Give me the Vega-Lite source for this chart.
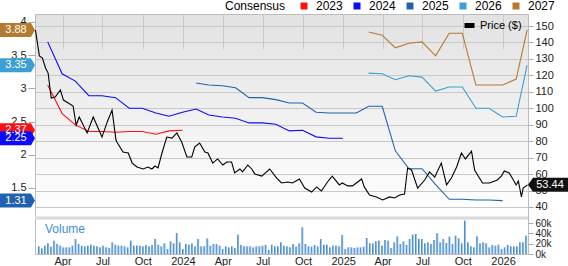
{
  "$schema": "https://vega.github.io/schema/vega-lite/v6.json",
  "background": "white",
  "padding": {"left": 0, "top": 0, "right": 0, "bottom": 0},
  "width": 493,
  "height": 240,
  "view": {
    "fill": {"gradient": "linear", "x1": 0, "y1": 0, "x2": 0, "y2": 1, "stops": [{"offset": 0, "color": "#e2e2e2"}, {"offset": 0.84, "color": "#ffffff"}, {"offset": 1, "color": "#ffffff"}]},
    "stroke": "#bcbcbc"
  },
  "datasets": {
    "cons": [
      {"d":"2023-02-26","yr":"2023","v":3.05},{"d":"2023-03-31","yr":"2023","v":2.62},{"d":"2023-04-30","yr":"2023","v":2.45},{"d":"2023-05-31","yr":"2023","v":2.35},{"d":"2023-06-30","yr":"2023","v":2.35},{"d":"2023-07-31","yr":"2023","v":2.34},{"d":"2023-08-31","yr":"2023","v":2.35},{"d":"2023-09-30","yr":"2023","v":2.35},{"d":"2023-10-31","yr":"2023","v":2.31},{"d":"2023-11-30","yr":"2023","v":2.36},{"d":"2023-12-31","yr":"2023","v":2.37},
      {"d":"2023-02-26","yr":"2024","v":3.70},{"d":"2023-03-31","yr":"2024","v":3.22},{"d":"2023-04-30","yr":"2024","v":3.11},{"d":"2023-05-31","yr":"2024","v":2.89},{"d":"2023-06-30","yr":"2024","v":2.89},{"d":"2023-07-31","yr":"2024","v":2.86},{"d":"2023-08-31","yr":"2024","v":2.70},{"d":"2023-09-30","yr":"2024","v":2.70},{"d":"2023-10-31","yr":"2024","v":2.63},{"d":"2023-11-30","yr":"2024","v":2.58},{"d":"2023-12-31","yr":"2024","v":2.64},{"d":"2024-01-31","yr":"2024","v":2.69},{"d":"2024-02-29","yr":"2024","v":2.60},{"d":"2024-03-31","yr":"2024","v":2.57},{"d":"2024-04-30","yr":"2024","v":2.55},{"d":"2024-05-31","yr":"2024","v":2.48},{"d":"2024-06-30","yr":"2024","v":2.48},{"d":"2024-07-31","yr":"2024","v":2.46},{"d":"2024-08-31","yr":"2024","v":2.36},{"d":"2024-09-30","yr":"2024","v":2.37},{"d":"2024-10-31","yr":"2024","v":2.27},{"d":"2024-11-30","yr":"2024","v":2.25},{"d":"2024-12-31","yr":"2024","v":2.25},
      {"d":"2024-01-31","yr":"2025","v":3.08},{"d":"2024-02-29","yr":"2025","v":3.05},{"d":"2024-03-31","yr":"2025","v":3.04},{"d":"2024-04-30","yr":"2025","v":3.01},{"d":"2024-05-31","yr":"2025","v":2.86},{"d":"2024-06-30","yr":"2025","v":2.86},{"d":"2024-07-31","yr":"2025","v":2.83},{"d":"2024-08-31","yr":"2025","v":2.78},{"d":"2024-09-30","yr":"2025","v":2.78},{"d":"2024-10-31","yr":"2025","v":2.64},{"d":"2024-11-30","yr":"2025","v":2.63},{"d":"2024-12-31","yr":"2025","v":2.63},{"d":"2025-01-31","yr":"2025","v":2.63},{"d":"2025-02-28","yr":"2025","v":2.73},{"d":"2025-03-31","yr":"2025","v":2.73},{"d":"2025-04-30","yr":"2025","v":2.06},{"d":"2025-05-31","yr":"2025","v":1.79},{"d":"2025-06-30","yr":"2025","v":1.79},{"d":"2025-07-31","yr":"2025","v":1.55},{"d":"2025-08-31","yr":"2025","v":1.33},{"d":"2025-09-30","yr":"2025","v":1.33},{"d":"2025-10-31","yr":"2025","v":1.32},{"d":"2025-11-30","yr":"2025","v":1.32},{"d":"2025-12-31","yr":"2025","v":1.31},
      {"d":"2025-02-28","yr":"2026","v":3.23},{"d":"2025-03-31","yr":"2026","v":3.22},{"d":"2025-04-30","yr":"2026","v":3.13},{"d":"2025-05-31","yr":"2026","v":3.19},{"d":"2025-06-30","yr":"2026","v":3.17},{"d":"2025-07-31","yr":"2026","v":2.96},{"d":"2025-08-31","yr":"2026","v":3.02},{"d":"2025-09-30","yr":"2026","v":3.02},{"d":"2025-10-31","yr":"2026","v":2.70},{"d":"2025-11-30","yr":"2026","v":2.70},{"d":"2025-12-31","yr":"2026","v":2.57},{"d":"2026-01-31","yr":"2026","v":2.58},{"d":"2026-02-25","yr":"2026","v":3.35},
      {"d":"2025-02-28","yr":"2027","v":3.85},{"d":"2025-03-31","yr":"2027","v":3.80},{"d":"2025-04-30","yr":"2027","v":3.61},{"d":"2025-05-31","yr":"2027","v":3.68},{"d":"2025-06-30","yr":"2027","v":3.70},{"d":"2025-07-31","yr":"2027","v":3.49},{"d":"2025-08-31","yr":"2027","v":3.83},{"d":"2025-09-30","yr":"2027","v":3.83},{"d":"2025-10-31","yr":"2027","v":3.05},{"d":"2025-11-30","yr":"2027","v":3.05},{"d":"2025-12-31","yr":"2027","v":3.05},{"d":"2026-01-31","yr":"2027","v":3.14},{"d":"2026-02-25","yr":"2027","v":3.88}
    ],
    "tags": [
      {"yr":"2023","v":2.37},{"yr":"2024","v":2.25},{"yr":"2025","v":1.31},{"yr":"2026","v":3.35},{"yr":"2027","v":3.88}
    ],
    "price": [
      {"d":"2023-01-29","p":147.6},{"d":"2023-02-07","p":131.8},{"d":"2023-02-14","p":130.5},{"d":"2023-02-21","p":124.5},{"d":"2023-02-27","p":121.4},{"d":"2023-03-06","p":106.2},{"d":"2023-03-15","p":106.8},{"d":"2023-03-27","p":111.1},{"d":"2023-04-03","p":105.0},{"d":"2023-04-14","p":103.2},{"d":"2023-04-25","p":101.4},{"d":"2023-05-02","p":89.8},{"d":"2023-05-09","p":94.7},{"d":"2023-05-27","p":85.0},{"d":"2023-06-10","p":94.7},{"d":"2023-06-30","p":82.5},{"d":"2023-07-12","p":91.7},{"d":"2023-07-23","p":98.9},{"d":"2023-08-01","p":80.7},{"d":"2023-08-03","p":79.5},{"d":"2023-08-17","p":73.4},{"d":"2023-08-29","p":72.8},{"d":"2023-09-07","p":66.7},{"d":"2023-09-18","p":64.3},{"d":"2023-10-02","p":63.1},{"d":"2023-10-13","p":64.3},{"d":"2023-10-22","p":63.1},{"d":"2023-10-29","p":64.9},{"d":"2023-11-05","p":63.7},{"d":"2023-11-14","p":72.8},{"d":"2023-11-25","p":82.5},{"d":"2023-12-07","p":81.9},{"d":"2023-12-18","p":85.0},{"d":"2023-12-29","p":79.5},
      {"d":"2024-01-10","p":70.4},{"d":"2024-01-21","p":70.4},{"d":"2024-01-28","p":76.5},{"d":"2024-02-08","p":78.9},{"d":"2024-02-20","p":73.4},{"d":"2024-02-27","p":72.8},{"d":"2024-03-09","p":66.7},{"d":"2024-03-20","p":69.2},{"d":"2024-04-01","p":65.5},{"d":"2024-04-10","p":67.3},{"d":"2024-04-21","p":67.3},{"d":"2024-04-28","p":60.7},{"d":"2024-05-10","p":63.1},{"d":"2024-05-16","p":61.3},{"d":"2024-05-28","p":65.5},{"d":"2024-06-06","p":63.1},{"d":"2024-06-13","p":60.1},{"d":"2024-06-29","p":58.8},{"d":"2024-07-17","p":63.1},{"d":"2024-08-02","p":57.6},{"d":"2024-08-13","p":54.6},{"d":"2024-08-27","p":55.2},{"d":"2024-09-07","p":54.6},{"d":"2024-09-23","p":57.0},{"d":"2024-10-05","p":51.5},{"d":"2024-10-21","p":49.1},{"d":"2024-11-01","p":52.2},{"d":"2024-11-12","p":49.7},{"d":"2024-11-26","p":55.2},{"d":"2024-12-07","p":58.8},{"d":"2024-12-23","p":53.4},{"d":"2024-12-30","p":54.6},
      {"d":"2025-01-11","p":52.8},{"d":"2025-01-22","p":52.8},{"d":"2025-01-31","p":54.6},{"d":"2025-02-12","p":57.0},{"d":"2025-02-18","p":52.2},{"d":"2025-03-02","p":47.3},{"d":"2025-03-18","p":46.1},{"d":"2025-04-01","p":44.3},{"d":"2025-04-17","p":46.1},{"d":"2025-04-28","p":45.5},{"d":"2025-05-10","p":47.3},{"d":"2025-05-21","p":47.9},{"d":"2025-05-28","p":63.7},{"d":"2025-06-06","p":62.5},{"d":"2025-06-20","p":51.5},{"d":"2025-07-06","p":56.4},{"d":"2025-07-17","p":61.3},{"d":"2025-07-29","p":58.2},{"d":"2025-08-13","p":66.7},{"d":"2025-08-25","p":53.4},{"d":"2025-09-05","p":57.6},{"d":"2025-09-17","p":64.3},{"d":"2025-09-28","p":72.8},{"d":"2025-10-07","p":69.2},{"d":"2025-10-21","p":74.0},{"d":"2025-10-28","p":62.5},{"d":"2025-11-15","p":54.6},{"d":"2025-12-01","p":54.6},{"d":"2025-12-19","p":56.4},{"d":"2025-12-28","p":58.8},
      {"d":"2026-01-04","p":61.9},{"d":"2026-01-15","p":60.7},{"d":"2026-01-22","p":57.6},{"d":"2026-01-31","p":53.4},{"d":"2026-02-05","p":55.8},{"d":"2026-02-12","p":46.1},{"d":"2026-02-16","p":51.5},{"d":"2026-02-26","p":53.44}
    ],
    "ptag": [{"p":53.44}],
    "vlabel": [{"t":"Volume"}],
    "vol": [
      {"w":"2023-02-06","v":14900},{"w":"2023-02-13","v":11000},{"w":"2023-02-20","v":16200},{"w":"2023-02-27","v":20700},{"w":"2023-03-06","v":14200},{"w":"2023-03-13","v":25900},{"w":"2023-03-20","v":19400},{"w":"2023-03-27","v":16200},{"w":"2023-04-03","v":12900},{"w":"2023-04-10","v":12900},{"w":"2023-04-17","v":12900},{"w":"2023-04-24","v":16200},{"w":"2023-05-01","v":29100},{"w":"2023-05-08","v":19400},{"w":"2023-05-15","v":16200},{"w":"2023-05-22","v":14900},{"w":"2023-05-29","v":16200},{"w":"2023-06-05","v":18100},{"w":"2023-06-12","v":16200},{"w":"2023-06-19","v":14900},{"w":"2023-06-26","v":12900},{"w":"2023-07-03","v":16200},{"w":"2023-07-10","v":12900},{"w":"2023-07-17","v":11600},{"w":"2023-07-24","v":22600},{"w":"2023-07-31","v":18100},{"w":"2023-08-07","v":16200},{"w":"2023-08-14","v":16200},{"w":"2023-08-21","v":14900},{"w":"2023-08-28","v":12900},{"w":"2023-09-04","v":25900},{"w":"2023-09-11","v":16200},{"w":"2023-09-18","v":16200},{"w":"2023-09-25","v":16200},{"w":"2023-10-02","v":14900},{"w":"2023-10-09","v":17500},{"w":"2023-10-16","v":14900},{"w":"2023-10-23","v":17500},{"w":"2023-10-30","v":29100},{"w":"2023-11-06","v":18100},{"w":"2023-11-13","v":14900},
      {"w":"2023-11-20","v":20700},{"w":"2023-11-27","v":9700},{"w":"2023-12-04","v":24600},{"w":"2023-12-11","v":20700},{"w":"2023-12-18","v":40800},{"w":"2023-12-25","v":22600},{"w":"2024-01-01","v":9700},{"w":"2024-01-08","v":19400},{"w":"2024-01-15","v":18100},{"w":"2024-01-22","v":20700},{"w":"2024-01-29","v":14900},{"w":"2024-02-05","v":29100},{"w":"2024-02-12","v":14900},{"w":"2024-02-19","v":14900},{"w":"2024-02-26","v":30400},{"w":"2024-03-04","v":16200},{"w":"2024-03-11","v":19400},{"w":"2024-03-18","v":19400},{"w":"2024-03-25","v":16200},{"w":"2024-04-01","v":9700},{"w":"2024-04-08","v":14900},{"w":"2024-04-15","v":12900},{"w":"2024-04-22","v":14900},{"w":"2024-04-29","v":11600},{"w":"2024-05-06","v":37500},{"w":"2024-05-13","v":17500},{"w":"2024-05-20","v":14900},{"w":"2024-05-27","v":14900},{"w":"2024-06-03","v":14900},{"w":"2024-06-10","v":12900},{"w":"2024-06-17","v":14900},{"w":"2024-06-24","v":14900},{"w":"2024-07-01","v":16200},{"w":"2024-07-08","v":17500},{"w":"2024-07-15","v":7800},{"w":"2024-07-22","v":18100},{"w":"2024-07-29","v":14900},{"w":"2024-08-05","v":14900},{"w":"2024-08-12","v":22600},{"w":"2024-08-19","v":16200},
      {"w":"2024-08-26","v":14900},{"w":"2024-09-02","v":12900},{"w":"2024-09-09","v":19400},{"w":"2024-09-16","v":14200},{"w":"2024-09-23","v":20700},{"w":"2024-09-30","v":51800},{"w":"2024-10-07","v":19400},{"w":"2024-10-14","v":14900},{"w":"2024-10-21","v":14200},{"w":"2024-10-28","v":17500},{"w":"2024-11-04","v":14900},{"w":"2024-11-11","v":29100},{"w":"2024-11-18","v":18100},{"w":"2024-11-25","v":18100},{"w":"2024-12-02","v":12900},{"w":"2024-12-09","v":16200},{"w":"2024-12-16","v":16200},{"w":"2024-12-23","v":14900},{"w":"2024-12-30","v":36900},{"w":"2025-01-06","v":9700},{"w":"2025-01-13","v":12900},{"w":"2025-01-20","v":12900},{"w":"2025-01-27","v":11600},{"w":"2025-02-03","v":12900},{"w":"2025-02-10","v":12900},{"w":"2025-02-17","v":14200},{"w":"2025-02-24","v":31100},{"w":"2025-03-03","v":20700},{"w":"2025-03-10","v":20700},{"w":"2025-03-17","v":24600},{"w":"2025-03-24","v":25900},{"w":"2025-03-31","v":16200},{"w":"2025-04-07","v":27200},{"w":"2025-04-14","v":25900},{"w":"2025-04-21","v":11600},{"w":"2025-04-28","v":22600},{"w":"2025-05-05","v":34300},{"w":"2025-05-12","v":19400},{"w":"2025-05-19","v":24600},{"w":"2025-05-26","v":17500},
      {"w":"2025-06-02","v":29100},{"w":"2025-06-09","v":37500},{"w":"2025-06-16","v":38800},{"w":"2025-06-23","v":29100},{"w":"2025-06-30","v":29100},{"w":"2025-07-07","v":20700},{"w":"2025-07-14","v":22600},{"w":"2025-07-21","v":19400},{"w":"2025-07-28","v":27200},{"w":"2025-08-04","v":40100},{"w":"2025-08-11","v":22600},{"w":"2025-08-18","v":29100},{"w":"2025-08-25","v":21400},{"w":"2025-09-01","v":33600},{"w":"2025-09-08","v":19400},{"w":"2025-09-15","v":35600},{"w":"2025-09-22","v":30400},{"w":"2025-09-29","v":20700},{"w":"2025-10-06","v":64700},{"w":"2025-10-13","v":22600},{"w":"2025-10-20","v":14900},{"w":"2025-10-27","v":12900},{"w":"2025-11-03","v":34300},{"w":"2025-11-10","v":20700},{"w":"2025-11-17","v":22600},{"w":"2025-11-24","v":20700},{"w":"2025-12-01","v":12900},{"w":"2025-12-08","v":17500},{"w":"2025-12-15","v":16200},{"w":"2025-12-22","v":18100},{"w":"2025-12-29","v":9700},{"w":"2026-01-05","v":12900},{"w":"2026-01-12","v":17500},{"w":"2026-01-19","v":14900},{"w":"2026-01-26","v":14900},{"w":"2026-02-02","v":14900},{"w":"2026-02-09","v":22600},{"w":"2026-02-16","v":22600},{"w":"2026-02-23","v":35600}
    ]
  },
  "layer": [
    {
      "layer": [
        {
          "data": {"name": "vol"},
          "mark": {"type": "bar", "width": 2, "fill": {"gradient": "linear", "x1": 0, "y1": 0, "x2": 1, "y2": 0, "stops": [{"offset": 0, "color": "#2f74bf"}, {"offset": 1, "color": "#a8d0f2"}]}},
          "encoding": {
            "x": {"field": "w", "type": "temporal", "scale": {"type": "utc", "padding": 0, "domain": [{"year": 2023, "month": 1, "date": 28, "utc": true}, {"year": 2026, "month": 2, "date": 27, "utc": true}]}, "axis": {"title": null}},
            "y": {"field": "v", "type": "quantitative", "scale": {"domain": [0, 67800], "range": [240, 205], "nice": false}, "axis": {"orient": "right", "values": [0, 20000, 40000, 60000], "format": "~s", "grid": false, "tickSize": 5, "labelPadding": 2, "labelFontSize": 10, "labelOverlap": false, "labelFlush": false, "title": null}}
          }
        },
        {
          "data": {"name": "vlabel"},
          "mark": {"type": "text", "align": "left", "baseline": "middle", "dx": 10, "fontSize": 12, "color": "#3d8fd6"},
          "encoding": {
            "x": {"datum": {"year": 2023, "month": 1, "date": 28, "utc": true}, "type": "temporal", "axis": {"title": null}},
            "y": {"datum": 48000, "type": "quantitative", "axis": {"orient": "right", "values": [0, 20000, 40000, 60000], "format": "~s", "grid": false, "tickSize": 5, "labelPadding": 2, "labelFontSize": 10, "labelOverlap": false, "labelFlush": false, "title": null}},
            "text": {"field": "t", "type": "nominal"}
          }
        },
        {
          "data": {"name": "vlabel"},
          "mark": {"type": "rule", "color": "#dadada", "strokeWidth": 3},
          "encoding": {
            "y": {"datum": 69600, "type": "quantitative", "axis": {"orient": "right", "values": [0, 20000, 40000, 60000], "format": "~s", "grid": false, "tickSize": 5, "labelPadding": 2, "labelFontSize": 10, "labelOverlap": false, "labelFlush": false, "title": null}}
          }
        }
      ]
    },
    {
      "layer": [
        {
          "data": {"name": "cons"},
          "mark": {"type": "line", "strokeWidth": 1.1},
          "encoding": {
            "x": {"field": "d", "type": "temporal", "axis": {"title": null}},
            "y": {"field": "v", "type": "quantitative", "scale": {"domain": [1.048, 4.12], "range": [204, 0], "nice": false, "zero": false}, "axis": {"orient": "left", "values": [1.5, 2, 2.5, 3, 3.5, 4], "format": "~g", "grid": false, "tickSize": 7, "ticks": true, "labelPadding": 2, "title": null}},
            "color": {
              "field": "yr", "type": "nominal",
              "scale": {"domain": ["2023", "2024", "2025", "2026", "2027"], "range": ["#ff1010", "#0a0aff", "#2062b0", "#3a9fd2", "#b47a2e"]},
              "legend": {
                "orient": "none", "legendX": 190, "legendY": -14, "direction": "horizontal",
                "title": "Consensus", "titleOrient": "left", "titleFontSize": 12, "titleFontWeight": "normal", "titleColor": "#000", "titlePadding": 12, "titleBaseline": "middle",
                "labelFontSize": 12, "symbolType": "square", "symbolSize": 49, "symbolStrokeWidth": 0, "labelOffset": 6, "columnPadding": 8, "padding": 0,
                "encoding": {
                  "symbols": {"update": {"fill": {"scale": "color", "field": "value"}, "opacity": {"value": 1}}},
                  "labels": {"update": {"fill": {"scale": "color", "field": "value"}}}
                }
              }
            }
          }
        },
        {
          "data": {"name": "tags"},
          "mark": {"type": "point", "shape": "M-1,-0.4L0.77,-0.4L1,0L0.77,0.4L-1,0.4Z", "size": 1225, "filled": true, "opacity": 1, "strokeWidth": 0, "xOffset": -17.5},
          "encoding": {
            "x": {"datum": {"year": 2023, "month": 1, "date": 28, "utc": true}, "type": "temporal", "axis": {"title": null}},
            "y": {"field": "v", "type": "quantitative", "axis": {"orient": "left", "values": [1.5, 2, 2.5, 3, 3.5, 4], "format": "~g", "grid": false, "tickSize": 7, "ticks": true, "labelPadding": 2, "title": null}},
            "color": {"field": "yr", "type": "nominal", "legend": null}
          }
        },
        {
          "data": {"name": "tags"},
          "mark": {"type": "text", "fill": "white", "fontSize": 11, "dx": -19, "align": "center", "baseline": "middle"},
          "encoding": {
            "x": {"datum": {"year": 2023, "month": 1, "date": 28, "utc": true}, "type": "temporal", "axis": {"title": null}},
            "y": {"field": "v", "type": "quantitative", "axis": {"orient": "left", "values": [1.5, 2, 2.5, 3, 3.5, 4], "format": "~g", "grid": false, "tickSize": 7, "ticks": true, "labelPadding": 2, "title": null}},
            "text": {"field": "v", "type": "quantitative", "format": ".2f"}
          }
        }
      ]
    },
    {
      "layer": [
        {
          "data": {"name": "price"},
          "mark": {"type": "line", "strokeWidth": 1.1},
          "encoding": {
            "x": {"field": "d", "type": "temporal", "axis": {"title": null}},
            "y": {"field": "p", "type": "quantitative", "scale": {"domain": [33.3, 157.3], "range": [204, 0], "nice": false, "zero": false}, "axis": {"orient": "right", "values": [40, 50, 60, 70, 80, 90, 100, 110, 120, 130, 140, 150], "grid": true, "tickSize": 5, "labelPadding": 2, "title": null}},
            "stroke": {
              "datum": "Price ($)", "type": "nominal",
              "scale": {"range": ["#000000"]},
              "legend": {
                "orient": "none", "legendX": 429, "legendY": 6, "title": null,
                "labelFontSize": 11, "labelColor": "#000", "symbolType": "M-1,-0.5H1V0.5H-1Z", "symbolSize": 100, "symbolStrokeWidth": 0, "symbolFillColor": "#000", "labelOffset": 5, "padding": 0,
                "encoding": {"symbols": {"update": {"fill": {"value": "#000"}, "opacity": {"value": 1}}}}
              }
            }
          }
        },
        {
          "data": {"name": "ptag"},
          "mark": {"type": "point", "shape": "M-1,0L-0.75,-0.35L1,-0.35L1,0.35L-0.75,0.35Z", "size": 1600, "filled": true, "opacity": 1, "strokeWidth": 0, "color": "#111111", "xOffset": 20},
          "encoding": {
            "x": {"datum": {"year": 2026, "month": 2, "date": 27, "utc": true}, "type": "temporal", "axis": {"title": null}},
            "y": {"field": "p", "type": "quantitative", "axis": {"orient": "right", "values": [40, 50, 60, 70, 80, 90, 100, 110, 120, 130, 140, 150], "grid": true, "tickSize": 5, "labelPadding": 2, "title": null}}
          }
        },
        {
          "data": {"name": "ptag"},
          "mark": {"type": "text", "fill": "white", "fontSize": 11, "dx": 22, "align": "center", "baseline": "middle"},
          "encoding": {
            "x": {"datum": {"year": 2026, "month": 2, "date": 27, "utc": true}, "type": "temporal", "axis": {"title": null}},
            "y": {"field": "p", "type": "quantitative", "axis": {"orient": "right", "values": [40, 50, 60, 70, 80, 90, 100, 110, 120, 130, 140, 150], "grid": true, "tickSize": 5, "labelPadding": 2, "title": null}},
            "text": {"field": "p", "type": "quantitative", "format": ".2f"}
          }
        }
      ]
    }
  ],
  "resolve": {"scale": {"y": "independent"}},
  "config": {
    "font": "Liberation Sans",
    "axis": {"gridColor": "#c9c9c9", "gridOpacity": 1, "labelColor": "#222222", "labelFontSize": 11, "domain": false, "tickColor": "#aaaaaa"},
    "axisX": {"grid": true, "ticks": false, "labelPadding": 1, "tickCount": {"interval": "month", "step": 3}, "labelExpr": "utcmonth(datum.value) == 0 ? utcFormat(datum.value, '%Y') : utcFormat(datum.value, '%b')"},
    "legend": {"labelColor": "#000"}
  }
}
